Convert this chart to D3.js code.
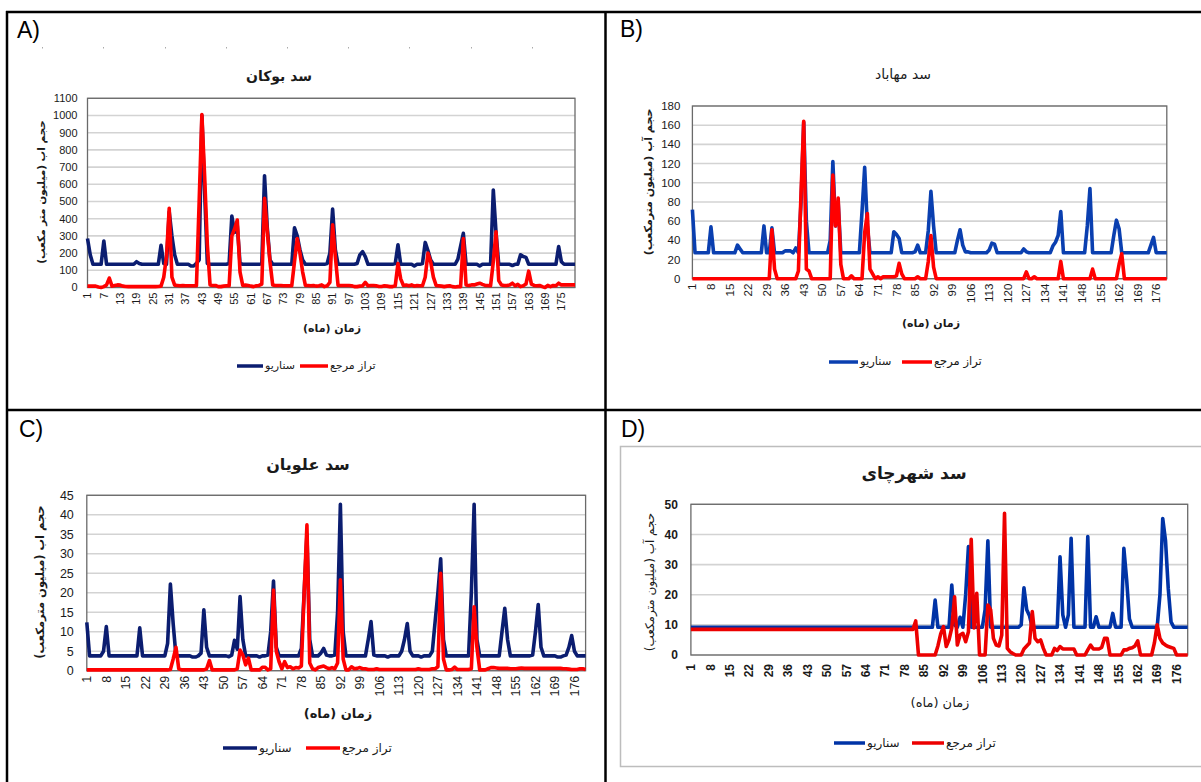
<!DOCTYPE html>
<html>
<head>
<meta charset="utf-8">
<script src="https://cdn.jsdelivr.net/npm/d3@7/dist/d3.min.js"></script>
<style>
body { margin: 0; background: #fff; }
text { font-family: 'Liberation Sans', Arial, sans-serif; fill: #1a1a1a; }
.fa { font-family: 'DejaVu Sans', sans-serif; }
</style>
</head>
<body>
<svg width="1201" height="782"></svg>
<script>
// months on the x axis (1..180)
var months = d3.range(1, 181)

var ticksA = [1, 7, 13, 19, 25, 31, 37, 43, 49, 55, 61, 67, 73, 79, 85, 91, 97, 103, 109, 115, 121, 127, 133, 139, 145, 151, 157, 163, 169, 175]
var ticks7 = [1, 8, 15, 22, 29, 36, 43, 50, 57, 64, 71, 78, 85, 92, 99, 106, 113, 120, 127, 134, 141, 148, 155, 162, 169, 176]

var yTicksA = [0, 100, 200, 300, 400, 500, 600, 700, 800, 900, 1000, 1100]
var yTicksB = [0, 20, 40, 60, 80, 100, 120, 140, 160, 180]
var yTicksC = [0, 5, 10, 15, 20, 25, 30, 35, 40, 45]
var yTicksD = [0, 10, 20, 30, 40, 50]

var seriesNames = ['سناریو', 'تراز مرجع']

// A - Bukan dam
var aBlue = [
    285, 190, 135, 135, 135, 135, 270, 135, 135, 135,
    135, 135, 135, 135, 135, 135, 135, 135, 150, 140,
    135, 135, 135, 135, 135, 135, 135, 245, 140, 135,
    440, 300, 190, 135, 135, 135, 135, 135, 125, 125,
    140, 160, 1000, 560, 140, 135, 135, 135, 135, 135,
    135, 135, 140, 415, 320, 360, 140, 135, 135, 135,
    135, 135, 135, 135, 140, 650, 350, 160, 135, 135,
    135, 135, 135, 135, 135, 135, 347, 300, 220, 160,
    135, 135, 135, 135, 135, 135, 135, 135, 140, 200,
    456, 220, 135, 135, 135, 135, 135, 135, 135, 140,
    190, 208, 180, 135, 135, 135, 135, 135, 135, 135,
    135, 135, 135, 140, 248, 135, 135, 135, 135, 135,
    125, 135, 135, 140, 262, 215, 160, 135, 135, 135,
    135, 135, 135, 135, 135, 135, 165, 240, 315, 135,
    135, 135, 135, 135, 125, 135, 135, 135, 135, 567,
    320, 135, 135, 135, 135, 135, 128, 135, 135, 190,
    180, 175, 135, 135, 135, 135, 135, 135, 135, 135,
    135, 135, 135, 238, 150, 135, 135, 135, 135, 135]
var aRed = [
    8, 8, 8, 8, 3, 0, 5, 15, 55, 8,
    12, 15, 14, 8, 6, 5, 5, 6, 5, 5,
    5, 6, 5, 5, 6, 5, 6, 8, 60, 180,
    460, 60, 14, 12, 10, 12, 10, 10, 10, 10,
    10, 500, 1005, 650, 250, 15, 12, 12, 5, 5,
    8, 10, 10, 300, 340, 392, 90, 12, 14, 12,
    8, 5, 10, 12, 20, 518, 330, 150, 15, 12,
    12, 12, 10, 10, 10, 10, 150, 285, 200, 90,
    12, 12, 10, 12, 8, 10, 15, 5, 10, 30,
    365, 180, 12, 12, 12, 12, 12, 10, 5, 5,
    8, 10, 30, 10, 12, 12, 10, 6, 6, 10,
    8, 5, 5, 10, 140, 50, 12, 14, 10, 15,
    8, 12, 10, 10, 60, 200, 150, 60, 12, 10,
    8, 5, 8, 10, 5, 3, 5, 5, 285, 15,
    12, 15, 15, 20, 25, 18, 12, 12, 10, 150,
    324, 40, 15, 12, 12, 15, 25, 10, 18, 5,
    10, 20, 95, 20, 12, 10, 12, 5, 0, 12,
    5, 12, 10, 25, 15, 15, 15, 15, 15, 15]

// B - Mahabad dam
var bBlue = [
    72, 27, 27, 27, 27, 27, 27, 54, 27, 27,
    27, 27, 27, 27, 27, 27, 27, 35, 31, 27,
    27, 27, 27, 27, 27, 27, 27, 55, 27, 27,
    53, 27, 27, 27, 27, 29, 29, 29, 27, 32,
    27, 80, 163, 60, 27, 27, 27, 27, 27, 27,
    27, 27, 40, 122, 55, 80, 27, 27, 27, 27,
    27, 27, 27, 27, 70, 116, 55, 27, 27, 27,
    27, 27, 27, 27, 27, 27, 49, 46, 42, 27,
    27, 27, 27, 27, 28, 35, 27, 27, 27, 50,
    91, 55, 27, 27, 27, 27, 27, 27, 27, 27,
    40, 51, 35, 28, 28, 27, 27, 27, 27, 27,
    27, 27, 30, 37, 36, 27, 27, 27, 27, 27,
    27, 27, 27, 27, 27, 31, 28, 27, 27, 27,
    27, 27, 27, 27, 27, 27, 34, 38, 45, 70,
    27, 27, 27, 27, 27, 27, 27, 27, 27, 55,
    94, 27, 27, 27, 27, 27, 27, 27, 27, 45,
    61, 52, 27, 27, 27, 27, 27, 27, 27, 27,
    27, 27, 27, 35, 43, 27, 27, 27, 27, 27]
var bRed = [
    0, 0, 0, 0, 0, 0, 0, 0, 0, 0,
    0, 0, 0, 0, 0, 0, 0, 0, 0, 0,
    0, 0, 0, 0, 0, 0, 0, 0, 0, 0,
    51, 10, 0, 0, 0, 0, 0, 0, 0, 0,
    8, 90, 164, 10, 8, 0, 0, 0, 0, 0,
    0, 0, 0, 108, 55, 84, 15, 0, 0, 0,
    3, 0, 0, 0, 0, 48, 68, 10, 5, 0,
    2, 0, 2, 2, 2, 2, 2, 3, 16, 5,
    0, 0, 0, 0, 0, 2, 0, 0, 0, 18,
    45, 12, 0, 0, 0, 0, 0, 0, 0, 0,
    0, 0, 0, 0, 0, 0, 0, 0, 0, 0,
    0, 0, 0, 0, 0, 0, 0, 0, 0, 0,
    0, 0, 0, 0, 0, 0, 7, 0, 0, 2,
    0, 0, 0, 0, 0, 0, 0, 0, 0, 18,
    0, 0, 0, 0, 0, 0, 0, 0, 0, 0,
    0, 10, 0, 0, 0, 0, 0, 0, 0, 0,
    0, 15, 26, 0, 0, 0, 0, 0, 0, 0,
    0, 0, 0, 0, 0, 0, 0, 0, 0, 0]

// C - Alavian dam
var cBlue = [
    12.4, 3.8, 3.8, 3.8, 3.8, 3.8, 5, 11.3, 3.8, 3.8,
    3.8, 3.8, 3.8, 3.8, 3.8, 3.8, 3.8, 3.8, 3.8, 11,
    3.8, 3.8, 3.8, 3.8, 3.8, 3.8, 3.8, 3.8, 3.8, 7,
    22.2, 12, 3.8, 3.8, 3.8, 3.8, 3.8, 3.8, 3.5, 3.5,
    3.8, 4.5, 15.6, 6, 3.8, 3.8, 3.8, 3.8, 3.8, 3.8,
    3.8, 3.6, 4, 7.8, 5.5, 19, 8, 3.8, 3.8, 3.8,
    3.8, 3.8, 3.5, 3.8, 3.8, 4, 10, 23, 6, 3.8,
    3.8, 3.8, 3.8, 3.8, 3.8, 3.8, 3.8, 5.7, 20, 35,
    8, 3.8, 3.8, 3.8, 4.5, 5.7, 4, 3.8, 3.8, 4,
    15, 42.7, 10, 3.8, 3.8, 3.8, 3.8, 3.8, 3.8, 3.8,
    3.8, 8, 12.6, 4, 3.8, 3.8, 3.8, 3.8, 3.5, 3.8,
    3.8, 3.8, 3.8, 5, 8, 12.1, 5, 3.8, 3.8, 3.8,
    3.5, 3.8, 3.8, 3.8, 5, 12.6, 20, 28.7, 8, 3.8,
    3.8, 3.8, 3.8, 3.8, 3.8, 3.8, 3.8, 3.8, 20, 42.7,
    8, 3.8, 3.8, 3.8, 3.8, 3.8, 3.8, 3.8, 3.8, 10,
    16, 8, 3.8, 3.8, 3.8, 3.8, 3.8, 3.8, 3.8, 3.8,
    4, 10, 17, 6, 3.8, 3.8, 3.8, 3.8, 3.8, 3.5,
    3.5, 3.8, 4, 6, 9, 5, 3.8, 3.8, 3.8, 3.8]
var cRed = [
    0.2, 0.2, 0.2, 0.2, 0.2, 0.2, 0.2, 0.2, 0.2, 0.2,
    0.2, 0.2, 0.2, 0.2, 0.2, 0.2, 0.2, 0.2, 0.2, 0.2,
    0.2, 0.2, 0.2, 0.2, 0.2, 0.2, 0.2, 0.2, 0.2, 0.2,
    0.3, 3, 6, 0.5, 0.2, 0.2, 0.2, 0.2, 0.2, 0.2,
    0.2, 0.2, 0.2, 0.5, 2.6, 0.2, 0.2, 0.2, 0.2, 0.2,
    0.2, 0.2, 0.2, 0.2, 0.5, 5.3, 4, 1.5, 3.2, 0.2,
    0.2, 0.2, 0.2, 0.9, 0.9, 0.2, 0.5, 20.7, 5, 2.3,
    0.5, 2.3, 0.8, 1, 0.5, 0.8, 0.7, 1.2, 20, 37.4,
    2, 0.5, 0.2, 0.8, 1, 1.2, 0.8, 0.5, 0.8, 0.5,
    2, 23.3, 3, 0.2, 0.2, 1, 0.5, 0.6, 0.8, 0.5,
    0.5, 0.3, 0.3, 0.3, 0.5, 0.3, 0.3, 0.3, 0.3, 0.3,
    0.3, 0.3, 0.3, 0.3, 0.3, 0.3, 0.3, 0.3, 0.3, 0.5,
    0.3, 0.3, 0.3, 0.3, 0.5, 0.5, 1, 25, 3, 0.2,
    0.2, 0.3, 0.9, 0.3, 0.3, 0.3, 0.3, 0.3, 0.5, 16.4,
    6, 0.2, 0.2, 0.2, 0.5, 0.8, 0.8, 0.7, 0.6, 0.6,
    0.6, 0.6, 0.5, 0.5, 0.5, 0.6, 0.7, 0.6, 0.6, 0.6,
    0.6, 0.6, 0.6, 0.6, 0.6, 0.6, 0.6, 0.6, 0.6, 0.6,
    0.6, 0.5, 0.5, 0.4, 0.3, 0.3, 0.3, 0.5, 0.5, 0.3]

// D - Shahrchay dam
var dBlue = [
    9.2, 9.2, 9.2, 9.2, 9.2, 9.2, 9.2, 9.2, 9.2, 9.2,
    9.2, 9.2, 9.2, 9.2, 9.2, 9.2, 9.2, 9.2, 9.2, 9.2,
    9.2, 9.2, 9.2, 9.2, 9.2, 9.2, 9.2, 9.2, 9.2, 9.2,
    9.2, 9.2, 9.2, 9.2, 9.2, 9.2, 9.2, 9.2, 9.2, 9.2,
    9.2, 9.2, 9.2, 9.2, 9.2, 9.2, 9.2, 9.2, 9.2, 9.2,
    9.2, 9.2, 9.2, 9.2, 9.2, 9.2, 9.2, 9.2, 9.2, 9.2,
    9.2, 9.2, 9.2, 9.2, 9.2, 9.2, 9.2, 9.2, 9.2, 9.2,
    9.2, 9.2, 9.2, 9.2, 9.2, 9.2, 9.2, 9.2, 9.2, 9.2,
    9.2, 9.2, 9.2, 9.2, 9.2, 9.2, 9.2, 9.2, 18.2, 9.2,
    9.2, 9.2, 9.2, 9.2, 23.2, 10, 9.2, 12.5, 9.2, 20,
    36, 9.2, 9.2, 9.2, 9.2, 9.2, 15, 37.9, 9.2, 9.2,
    9.2, 9.2, 9.2, 9.2, 9.2, 9.2, 9.2, 9.2, 9.2, 10,
    22.3, 15, 13, 9.2, 9.2, 9.2, 9.2, 9.2, 9.2, 9.2,
    9.2, 9.2, 9.2, 32.6, 13.3, 9.2, 13.3, 38.7, 9.2, 9.2,
    9.2, 9.2, 9.2, 39.3, 9.2, 9.2, 12.7, 9.2, 9.2, 9.2,
    9.2, 9.2, 13.8, 9.2, 9.2, 9.2, 35.4, 25, 12, 9.2,
    9.2, 9.2, 9.2, 9.2, 9.2, 9.2, 9.2, 9.2, 9.2, 20,
    45.3, 38, 22, 11, 9.2, 9.2, 9.2, 9.2, 9.2, 9.2]
var dRed = [
    8.5, 8.5, 8.5, 8.5, 8.5, 8.5, 8.5, 8.5, 8.5, 8.5,
    8.5, 8.5, 8.5, 8.5, 8.5, 8.5, 8.5, 8.5, 8.5, 8.5,
    8.5, 8.5, 8.5, 8.5, 8.5, 8.5, 8.5, 8.5, 8.5, 8.5,
    8.5, 8.5, 8.5, 8.5, 8.5, 8.5, 8.5, 8.5, 8.5, 8.5,
    8.5, 8.5, 8.5, 8.5, 8.5, 8.5, 8.5, 8.5, 8.5, 8.5,
    8.5, 8.5, 8.5, 8.5, 8.5, 8.5, 8.5, 8.5, 8.5, 8.5,
    8.5, 8.5, 8.5, 8.5, 8.5, 8.5, 8.5, 8.5, 8.5, 8.5,
    8.5, 8.5, 8.5, 8.5, 8.5, 8.5, 8.5, 8.5, 8.5, 8.5,
    8.5, 11.3, 0, 0, 0, 0, 0, 0, 0, 3,
    7, 9.4, 2.8, 5, 9, 19.3, 3.3, 6.6, 7.2, 4.4,
    7.7, 38.4, 9, 20.5, 0, 0, 0, 16.6, 15, 5.5,
    3.3, 3, 6.6, 47, 2.2, 1.1, 0.5, 0, 0, 0,
    2, 3, 4, 14.4, 5.5, 4.4, 5, 2.2, 0, 0,
    0, 2.2, 1.5, 2.8, 2, 2, 2, 2, 2, 0,
    0, 0, 0, 1.7, 3.3, 2, 2, 2, 2.5, 5.5,
    5.5, 0, 0, 0, 0, 0, 1.7, 1.7, 2.2, 2.4,
    3, 4.7, 0, 0, 0, 0, 0, 4, 10, 5.5,
    4, 3.3, 2.8, 2.5, 2.2, 0, 0, 0, 0, 0]

var svg = d3.select('svg')

svg.append('rect')
    .attr('width', 1201)
    .attr('height', 782)
    .attr('fill', '#fff')

// D has its own light chart frame
svg.append('rect')
    .attr('x', 620.5)
    .attr('y', 446.5)
    .attr('width', 620)
    .attr('height', 320)
    .attr('fill', 'none')
    .attr('stroke', '#bdbdbd')
    .attr('stroke-width', 1.5)

var panels = [
    {
        letter: 'A)', lx: 17, ly: 38,
        title: 'سد بوکان', tx: 279, ty: 81, tsize: 14, tweight: 'bold',
        box: [87.5, 98.3, 575, 287.5],
        yMax: 1100, yTicks: yTicksA, xTicks: ticksA,
        blue: aBlue, red: aRed, blueColor: '#0b1d70', redColor: '#ff0000',
        tickSize: 11, tickWeight: 'normal', tickGap: 5, yGap: 10,
        yTitle: 'حجم اب (میلیون متر مکعب)', ytx: 41, yty: 192, ytSize: 10.5, ytWeight: 'bold',
        xTitle: 'زمان (ماه)', xtx: 332, xty: 328, xtSize: 11, xtWeight: 'bold',
        legY: 366, legSize: 11, leg: [237, 263, 265, 300, 328, 330]
    },
    {
        letter: 'B)', lx: 620, ly: 37,
        title: 'سد مهاباد', tx: 903, ty: 79, tsize: 14, tweight: 'normal',
        box: [692.4, 106, 1166.8, 278.7],
        yMax: 180, yTicks: yTicksB, xTicks: ticks7,
        blue: bBlue, red: bRed, blueColor: '#0a3fb0', redColor: '#ff0000',
        tickSize: 11.5, tickWeight: 'normal', tickGap: 5, yGap: 12,
        yTitle: 'حجم آب (میلیون مترمکعب)', ytx: 648, yty: 182, ytSize: 11, ytWeight: 'bold',
        xTitle: 'زمان (ماه)', xtx: 931, xty: 323, xtSize: 11, xtWeight: 'bold',
        legY: 362, legSize: 11.5, leg: [829, 858, 860, 902, 932, 934]
    },
    {
        letter: 'C)', lx: 19, ly: 437,
        title: 'سد علویان', tx: 308, ty: 470, tsize: 16, tweight: 'bold',
        box: [86.8, 495.3, 585.6, 670.7],
        yMax: 45, yTicks: yTicksC, xTicks: ticks7,
        blue: cBlue, red: cRed, blueColor: '#0b1d70', redColor: '#ff0000',
        tickSize: 12.5, tickWeight: 'normal', tickGap: 5, yGap: 13,
        yTitle: 'حجم اب (میلیون مترمکعب)', ytx: 40, yty: 582, ytSize: 11.5, ytWeight: 'bold',
        xTitle: 'زمان (ماه)', xtx: 338, xty: 713, xtSize: 13, xtWeight: 'bold',
        legY: 748, legSize: 12, leg: [223, 257, 259, 306, 340, 342]
    },
    {
        letter: 'D)', lx: 621, ly: 437,
        title: 'سد شهرچای', tx: 914, ty: 479, tsize: 17, tweight: 'bold',
        box: [690.9, 504.3, 1187.7, 655],
        yMax: 50, yTicks: yTicksD, xTicks: ticks7,
        blue: dBlue, red: dRed, blueColor: '#0033a6', redColor: '#ec0000',
        tickSize: 12, tickWeight: 'bold', tickGap: 9, yGap: 13,
        yTitle: 'حجم آب (میلیون مترمکعب)', ytx: 650, yty: 582, ytSize: 12, ytWeight: 'normal',
        xTitle: 'زمان (ماه)', xtx: 940, xty: 702, xtSize: 13, xtWeight: 'normal',
        legY: 743, legSize: 12, leg: [834, 865, 867, 912, 944, 946]
    }
]

function drawPanel(p) {
    var g = svg.append('g')
    var x0 = p.box[0], y0 = p.box[1], x1 = p.box[2], y1 = p.box[3]

    var x = d3.scaleLinear()
        .domain([1, 180])
        .range([x0, x1])
    var y = d3.scaleLinear()
        .domain([0, p.yMax])
        .range([y1, y0])

    g.append('text')
        .text(p.letter)
        .attr('x', p.lx)
        .attr('y', p.ly)
        .style('font-size', '23px')
        .style('fill', '#000')

    g.append('text')
        .attr('class', 'fa')
        .text(p.title)
        .attr('x', p.tx)
        .attr('y', p.ty)
        .style('text-anchor', 'middle')
        .style('font-size', p.tsize + 'px')
        .style('font-weight', p.tweight)

    // grid
    g.selectAll('.grid')
        .data(p.yTicks)
        .enter()
        .append('line')
        .attr('x1', x0)
        .attr('x2', x1)
        .attr('y1', d => y(d))
        .attr('y2', d => y(d))
        .attr('stroke', '#d3d3d3')
        .attr('stroke-width', 1.6)

    g.append('rect')
        .attr('x', x0)
        .attr('y', y0)
        .attr('width', x1 - x0)
        .attr('height', y1 - y0)
        .attr('fill', 'none')
        .attr('stroke', '#6a6a6a')
        .attr('stroke-width', 1.3)

    // y tick labels
    g.selectAll('.ytick')
        .data(p.yTicks)
        .enter()
        .append('text')
        .text(d => d)
        .attr('x', x0 - p.yGap)
        .attr('y', d => y(d))
        .attr('dy', '0.35em')
        .style('text-anchor', 'end')
        .style('font-size', p.tickSize + 'px')
        .style('font-weight', p.tickWeight)

    // x tick labels, rotated
    g.selectAll('.xtick')
        .data(p.xTicks)
        .enter()
        .append('text')
        .text(d => d)
        .attr('transform', d => 'translate(' + x(d) + ',' + (y1 + p.tickGap) + ') rotate(-90)')
        .attr('dy', '0.35em')
        .style('text-anchor', 'end')
        .style('font-size', p.tickSize + 'px')
        .style('font-weight', p.tickWeight)

    g.append('text')
        .attr('class', 'fa')
        .text(p.yTitle)
        .attr('transform', 'translate(' + p.ytx + ',' + p.yty + ') rotate(-90)')
        .attr('dy', '0.35em')
        .style('text-anchor', 'middle')
        .style('font-size', p.ytSize + 'px')
        .style('font-weight', p.ytWeight)

    g.append('text')
        .attr('class', 'fa')
        .text(p.xTitle)
        .attr('x', p.xtx)
        .attr('y', p.xty)
        .attr('dy', '0.35em')
        .style('text-anchor', 'middle')
        .style('font-size', p.xtSize + 'px')
        .style('font-weight', p.xtWeight)

    var line = d3.line()
        .x((d, i) => x(months[i]))
        .y(d => y(d))

    g.append('path')
        .datum(p.blue)
        .attr('d', line)
        .attr('fill', 'none')
        .attr('stroke', p.blueColor)
        .attr('stroke-width', 3.6)
        .attr('stroke-linejoin', 'round')

    g.append('path')
        .datum(p.red)
        .attr('d', line)
        .attr('fill', 'none')
        .attr('stroke', p.redColor)
        .attr('stroke-width', 3.6)
        .attr('stroke-linejoin', 'round')

    // legend
    var L = p.leg
    g.append('line')
        .attr('x1', L[0]).attr('x2', L[1])
        .attr('y1', p.legY).attr('y2', p.legY)
        .attr('stroke', p.blueColor)
        .attr('stroke-width', 3.5)
    g.append('text')
        .attr('class', 'fa')
        .text(seriesNames[0])
        .attr('x', L[2])
        .attr('y', p.legY)
        .attr('dy', '0.3em')
        .style('font-size', p.legSize + 'px')
    g.append('line')
        .attr('x1', L[3]).attr('x2', L[4])
        .attr('y1', p.legY).attr('y2', p.legY)
        .attr('stroke', p.redColor)
        .attr('stroke-width', 3.5)
    g.append('text')
        .attr('class', 'fa')
        .text(seriesNames[1])
        .attr('x', L[5])
        .attr('y', p.legY)
        .attr('dy', '0.3em')
        .style('font-size', p.legSize + 'px')
}

panels.forEach(drawPanel)

// stray marks under the A) label
svg.selectAll('.dot')
    .data([42, 103, 165, 226, 287, 348, 409, 471, 532])
    .enter()
    .append('rect')
    .attr('x', d => d)
    .attr('y', 47)
    .attr('width', 1)
    .attr('height', 1.5)
    .attr('fill', '#aaa')

// panel frame
var frame = svg.append('g')
    .attr('stroke', '#000')
    .attr('stroke-width', 2.5)
frame.append('line').attr('x1', 6).attr('y1', 12).attr('x2', 1201).attr('y2', 12)
frame.append('line').attr('x1', 7).attr('y1', 11).attr('x2', 7).attr('y2', 782)
frame.append('line').attr('x1', 605.5).attr('y1', 11).attr('x2', 605.5).attr('y2', 782)
frame.append('line').attr('x1', 6).attr('y1', 410).attr('x2', 1201).attr('y2', 410)
</script>
</body>
</html>
